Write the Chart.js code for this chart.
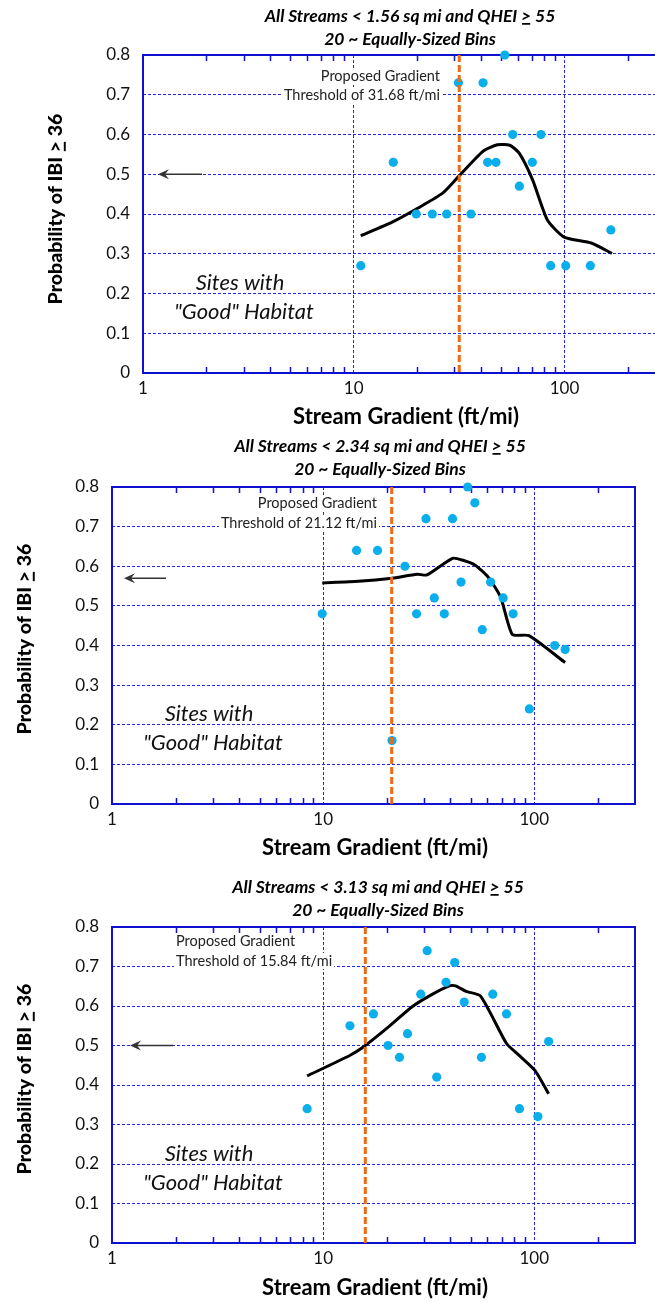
<!DOCTYPE html>
<html>
<head>
<meta charset="utf-8">
<script src="https://cdn.jsdelivr.net/npm/chart.js@4.4.0/dist/chart.umd.min.js"></script>
<style>
  html, body { margin: 0; padding: 0; background: #fff; width: 655px; height: 1302px; overflow: hidden; }
  .panel { position: absolute; left: 0; }
</style>
</head>
<body>
<div class="panel" style="top:0px"><canvas id="c1" width="680" height="430"></canvas></div>
<div class="panel" style="top:430px"><canvas id="c2" width="655" height="435"></canvas></div>
<div class="panel" style="top:865px"><canvas id="c3" width="655" height="437"></canvas></div>
<script>
// drainage-area cutoffs and gradient thresholds for each panel
const areaLimits = ['1.56', '2.34', '3.13'];
const thresholds = [31.68, 21.12, 15.84];
const arrowLevels = [0.5, 0.57, 0.5];
const xTickVals = [1, 10, 100];

// binned observations: gradient (ft/mi) vs probability of IBI >= 36
const binX1 = [10.8, 15.4, 19.8, 23.6, 27.6, 31.4, 36.0, 41.1, 43.2, 47.3, 52.1, 56.8, 61.1, 70.4, 77.4, 86.0, 101.4, 132.7, 166];
const binY1 = [0.27, 0.53, 0.40, 0.40, 0.40, 0.73, 0.40, 0.73, 0.53, 0.53, 0.80, 0.60, 0.47, 0.53, 0.60, 0.27, 0.27, 0.27, 0.36];
const binX2 = [9.9, 14.4, 18.1, 21.2, 24.4, 27.7, 30.7, 33.6, 37.5, 41.0, 45.0, 48.4, 52.3, 56.7, 62.1, 71.2, 79.4, 94.8, 125, 140];
const binY2 = [0.48, 0.64, 0.64, 0.16, 0.60, 0.48, 0.72, 0.52, 0.48, 0.72, 0.56, 0.80, 0.76, 0.44, 0.56, 0.52, 0.48, 0.24, 0.40, 0.39];
const binX3 = [8.4, 13.4, 17.3, 20.3, 23.0, 25.1, 29.0, 31.1, 34.5, 38.2, 42.0, 46.6, 56.2, 63.6, 73.9, 85.1, 104, 117];
const binY3 = [0.34, 0.55, 0.58, 0.50, 0.47, 0.53, 0.63, 0.74, 0.42, 0.66, 0.71, 0.61, 0.47, 0.63, 0.58, 0.34, 0.32, 0.51];

// smoothed probability curves
const fitX1 = [10.8, 15.3, 20.2, 26.5, 31.4, 40.9, 48, 55, 61, 70.6, 83, 99.6, 134, 168];
const fitY1 = [0.345, 0.38, 0.415, 0.453, 0.494, 0.557, 0.574, 0.573, 0.553, 0.486, 0.385, 0.342, 0.327, 0.301];
const fitX2 = [9.9, 14.7, 21.2, 27.9, 31.0, 41.0, 46.0, 52.7, 60.4, 69.3, 78.7, 94.4, 140];
const fitY2 = [0.558, 0.562, 0.570, 0.58, 0.578, 0.62, 0.615, 0.602, 0.573, 0.522, 0.428, 0.425, 0.357];
const fitX3 = [8.4, 13.3, 15.5, 20.4, 26.2, 32.2, 39.6, 42.4, 47.5, 55.7, 73.9, 84, 100.7, 117];
const fitY3 = [0.423, 0.474, 0.496, 0.547, 0.597, 0.627, 0.651, 0.651, 0.637, 0.625, 0.505, 0.477, 0.437, 0.378];

const FONT = 'Lato';
const BLUE = '#1010d0';
const GRID = '#2626ea';
Chart.defaults.font.family = FONT;

const pairs = (xs, ys) => xs.map((x, i) => ({ x: x, y: ys[i] }));

// draws a string where some pieces are underlined (the ">" in ">=")
function richText(ctx, parts, x, y, align) {
  const total = parts.reduce((w, p) => w + ctx.measureText(p.t).width, 0);
  let cx = align === 'center' ? x - total / 2 : align === 'right' ? x - total : x;
  ctx.textAlign = 'left';
  ctx.textBaseline = 'middle';
  const size = parseFloat(ctx.font.match(/(\d+(\.\d+)?)px/)[1]);
  parts.forEach(p => {
    const w = ctx.measureText(p.t).width;
    ctx.fillText(p.t, cx, y);
    if (p.u) {
      ctx.save();
      ctx.lineWidth = Math.max(1.5, size / 10);
      ctx.strokeStyle = ctx.fillStyle;
      ctx.beginPath();
      ctx.moveTo(cx + 1, y + size * 0.45);
      ctx.lineTo(cx + w - 1, y + size * 0.45);
      ctx.stroke();
      ctx.restore();
    }
    cx += w;
  });
}

const decor = {
  id: 'decor',
  beforeDatasetsDraw(chart, args, o) {
    const { ctx, chartArea: a, scales } = chart;
    ctx.save();
    // frame
    ctx.lineWidth = 2;
    ctx.strokeStyle = BLUE;
    ctx.strokeRect(a.left, a.top, a.right - a.left, a.bottom - a.top);
    // minor log ticks on top and bottom edges
    ctx.lineWidth = 1.5;
    const minors = [];
    [1, 10, 100].forEach(d => { for (let k = 2; k <= 9; k++) if (d * k < 300) minors.push(d * k); });
    ctx.beginPath();
    minors.forEach(v => {
      const px = Math.round(scales.x.getPixelForValue(v)) + 0.5;
      ctx.moveTo(px, a.top); ctx.lineTo(px, a.top + 6);
      ctx.moveTo(px, a.bottom); ctx.lineTo(px, a.bottom - 6);
    });
    ctx.stroke();
    ctx.restore();
  },
  afterDatasetsDraw(chart, args, o) {
    const { ctx, chartArea: a, scales } = chart;
    ctx.save();
    // proposed threshold
    const tx = scales.x.getPixelForValue(o.threshold);
    ctx.strokeStyle = '#ee6a14';
    ctx.lineWidth = 3;
    ctx.setLineDash([7, 3]);
    ctx.beginPath();
    ctx.moveTo(tx, a.top);
    ctx.lineTo(tx, a.bottom);
    ctx.stroke();
    ctx.setLineDash([]);

    // threshold note with white backing
    ctx.font = '14.5px ' + FONT;
    ctx.textBaseline = 'middle';
    o.note.lines.forEach((t, i) => {
      const w = ctx.measureText(t).width;
      const x0 = o.note.align === 'right' ? o.note.x - w : o.note.x;
      ctx.fillStyle = '#fff';
      ctx.fillRect(x0 - 2, o.note.y[i] - 8, w + 4, 16);
      ctx.fillStyle = '#222';
      ctx.textAlign = 'left';
      ctx.fillText(t, x0, o.note.y[i]);
    });

    // habitat label
    ctx.font = 'italic 22px ' + FONT;
    ctx.textAlign = 'center';
    ctx.fillStyle = '#111';
    o.sites.forEach(s => ctx.fillText(s.t, s.x, s.y));

    // arrow pointing to the y axis
    const ay = scales.y.getPixelForValue(o.arrow.level);
    const x1 = a.left + o.arrow.from, x0 = a.left + o.arrow.to;
    ctx.strokeStyle = '#333';
    ctx.fillStyle = '#333';
    ctx.lineWidth = 1.5;
    ctx.beginPath();
    ctx.moveTo(x1, ay); ctx.lineTo(x0 + 6, ay);
    ctx.stroke();
    ctx.beginPath();
    ctx.moveTo(x0, ay);
    ctx.lineTo(x0 + 11, ay - 5);
    ctx.lineTo(x0 + 7, ay);
    ctx.lineTo(x0 + 11, ay + 5);
    ctx.closePath();
    ctx.fill();
    ctx.restore();
  },
  afterDraw(chart, args, o) {
    const { ctx } = chart;
    ctx.save();
    ctx.fillStyle = '#000';
    ctx.font = 'italic bold 17.5px ' + FONT;
    richText(ctx, [{ t: 'All Streams < ' + o.area + ' sq mi and QHEI ' }, { t: '>', u: true }, { t: ' 55' }], o.title.x, o.title.y[0], 'center');
    richText(ctx, [{ t: '20 ~ Equally-Sized Bins' }], o.title.x, o.title.y[1], 'center');

    ctx.font = 'bold 22px ' + FONT;
    richText(ctx, [{ t: 'Stream Gradient (ft/mi)' }], o.xTitle.x, o.xTitle.y, 'center');

    ctx.translate(o.yTitle.x, o.yTitle.y);
    ctx.rotate(-Math.PI / 2);
    ctx.font = '900 19.5px ' + FONT;
    richText(ctx, [{ t: 'Probability of IBI ' }, { t: '>', u: true }, { t: ' 36' }], 0, 0, 'center');
    ctx.restore();
  }
};

function makePanel(id, xs, ys, fx, fy, frame, extra) {
  new Chart(document.getElementById(id), {
    type: 'scatter',
    data: {
      datasets: [
        { data: pairs(xs, ys), backgroundColor: '#0aaeea', borderWidth: 0, pointRadius: 4.6, pointHoverRadius: 4.6, order: 1, clip: false },
        { type: 'line', data: pairs(fx, fy), borderColor: '#000', borderWidth: 3, pointRadius: 0, tension: 0.2, fill: false, order: 2 }
      ]
    },
    options: {
      responsive: false,
      animation: false,
      events: [],
      layout: { padding: { left: 0, top: frame.top, right: frame.right, bottom: 0 } },
      plugins: { legend: { display: false }, tooltip: { enabled: false }, decor: extra },
      scales: {
        x: {
          type: 'logarithmic', min: 1, max: 300,
          afterBuildTicks: s => { s.ticks = xTickVals.map(v => ({ value: v })); },
          afterFit: s => { s.height = frame.xh; },
          ticks: { callback: v => String(v), color: '#111', font: { size: 17 }, padding: 5, maxRotation: 0, autoSkip: false },
          grid: { color: GRID, lineWidth: 1, drawTicks: false },
          border: { display: false, dash: [3, 2] }
        },
        y: {
          min: 0, max: 0.8,
          afterFit: s => { s.width = frame.left; },
          ticks: { stepSize: 0.1, callback: v => (v === 0 ? '0' : v.toFixed(1)), color: '#111', font: { size: 17 }, padding: 13 },
          grid: { color: GRID, lineWidth: 1, drawTicks: false },
          border: { display: false, dash: [3, 2] }
        }
      }
    },
    plugins: [decor]
  });
}

makePanel('c1', binX1, binY1, fitX1, fitY1, { left: 143, top: 55, right: 15, xh: 57 }, {
  area: areaLimits[0], threshold: thresholds[0],
  title: { x: 410, y: [16, 39] }, xTitle: { x: 406, y: 417 }, yTitle: { x: 56, y: 209 },
  note: { lines: ['Proposed Gradient', 'Threshold of 31.68 ft/mi'], align: 'right', x: 440, y: [76, 95] },
  sites: [{ t: 'Sites with', x: 240, y: 283 }, { t: '"Good" Habitat', x: 244, y: 312 }],
  arrow: { level: arrowLevels[0], from: 59, to: 15 }
});

makePanel('c2', binX2, binY2, fitX2, fitY2, { left: 112, top: 57, right: 20, xh: 61 }, {
  area: areaLimits[1], threshold: thresholds[1],
  title: { x: 380, y: [16, 39] }, xTitle: { x: 375, y: 418 }, yTitle: { x: 25, y: 209 },
  note: { lines: ['Proposed Gradient', 'Threshold of 21.12 ft/mi'], align: 'right', x: 377, y: [73, 93] },
  sites: [{ t: 'Sites with', x: 209, y: 284 }, { t: '"Good" Habitat', x: 213, y: 313 }],
  arrow: { level: arrowLevels[1], from: 54, to: 12 }
});

makePanel('c3', binX3, binY3, fitX3, fitY3, { left: 112, top: 62, right: 20, xh: 59 }, {
  area: areaLimits[2], threshold: thresholds[2],
  title: { x: 378, y: [22, 45] }, xTitle: { x: 375, y: 423 }, yTitle: { x: 25, y: 214 },
  note: { lines: ['Proposed Gradient', 'Threshold of 15.84 ft/mi'], align: 'left', x: 176, y: [76, 96] },
  sites: [{ t: 'Sites with', x: 209, y: 289 }, { t: '"Good" Habitat', x: 213, y: 318 }],
  arrow: { level: arrowLevels[2], from: 61, to: 18 }
});
</script>
</body>
</html>
